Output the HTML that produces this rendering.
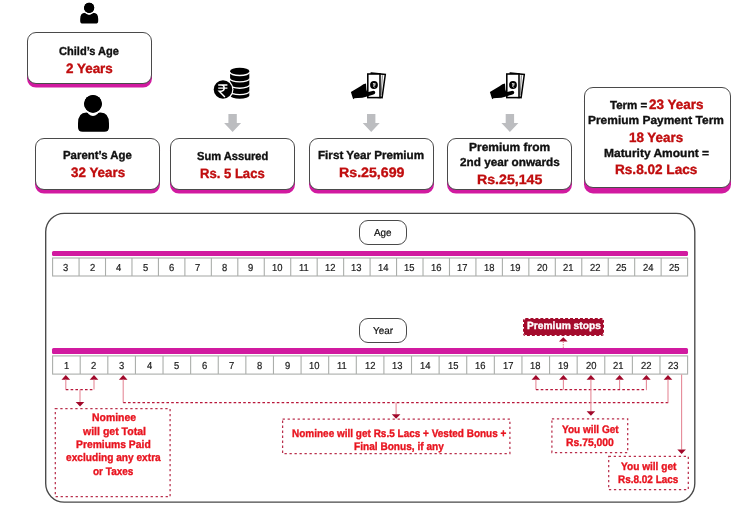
<!DOCTYPE html>
<html><head><meta charset="utf-8"><title>Plan illustration</title>
<style>
html,body{margin:0;padding:0;background:#fff}
body{width:740px;height:511px;position:relative;overflow:hidden;font-family:"Liberation Sans",sans-serif}
.t{position:absolute;white-space:nowrap;text-rendering:geometricPrecision;line-height:20px;transform-origin:0 0;font-weight:normal}
.box{position:absolute;box-sizing:border-box;background:#fff;border:1.3px solid #4a4a4a;border-radius:9px;box-shadow:0 3.6px 0 0 #d11aa0}
.bar{position:absolute;left:52.0px;width:635.8px;height:5.5px;background:#d11aa0;border-radius:1.5px}
.pill{position:absolute;box-sizing:border-box;border:1.2px solid #4a4a4a;border-radius:9px;background:#fff}
.stops{position:absolute;left:522.7px;top:318px;width:81.2px;height:17.7px;box-sizing:border-box;background:#a40b2c;background-clip:padding-box;border:1px dashed #a40b2c;border-radius:2.5px}
svg{position:absolute;left:0;top:0}
#stage{position:absolute;left:0;top:0;width:740px;height:511px;will-change:transform}
</style></head><body><div id="stage">
<div class="box" style="left:27px;top:32px;width:125px;height:52px"></div>
<div class="box" style="left:35px;top:138px;width:125px;height:52px"></div>
<div class="box" style="left:170px;top:138px;width:125px;height:52px"></div>
<div class="box" style="left:309px;top:138px;width:125px;height:52px"></div>
<div class="box" style="left:447px;top:138px;width:125px;height:52px"></div>
<div class="box" style="left:584px;top:87px;width:147px;height:101px;box-shadow:0 5.4px 0 0 #d11aa0"></div>
<div class="pill" style="left:359.2px;top:220.3px;width:47.6px;height:24.6px"></div>
<div class="pill" style="left:359.2px;top:317.9px;width:47.6px;height:24.7px"></div>
<div class="bar" style="top:250.5px"></div>
<div class="bar" style="top:348.4px"></div>
<div class="stops"></div>
<svg width="740" height="511" viewBox="0 0 740 511">
<rect x="45.7" y="213.3" width="649.1" height="288.8" rx="18.5" ry="18.5" fill="none" stroke="#484848" stroke-width="1.35"/>
<rect x="52.6" y="258.0" width="635.00" height="18.00" fill="#fff" stroke="#abaeab" stroke-width="1.1"/><path d="M79.06 258.0V276.0M105.52 258.0V276.0M131.97 258.0V276.0M158.43 258.0V276.0M184.89 258.0V276.0M211.35 258.0V276.0M237.81 258.0V276.0M264.27 258.0V276.0M290.73 258.0V276.0M317.18 258.0V276.0M343.64 258.0V276.0M370.10 258.0V276.0M396.56 258.0V276.0M423.02 258.0V276.0M449.48 258.0V276.0M475.93 258.0V276.0M502.39 258.0V276.0M528.85 258.0V276.0M555.31 258.0V276.0M581.77 258.0V276.0M608.23 258.0V276.0M634.68 258.0V276.0M661.14 258.0V276.0" stroke="#abaeab" stroke-width="1.1" fill="none"/>
<rect x="52.6" y="355.9" width="635.00" height="18.20" fill="#fff" stroke="#abaeab" stroke-width="1.1"/><path d="M80.21 355.9V374.1M107.82 355.9V374.1M135.43 355.9V374.1M163.03 355.9V374.1M190.64 355.9V374.1M218.25 355.9V374.1M245.86 355.9V374.1M273.47 355.9V374.1M301.08 355.9V374.1M328.69 355.9V374.1M356.30 355.9V374.1M383.90 355.9V374.1M411.51 355.9V374.1M439.12 355.9V374.1M466.73 355.9V374.1M494.34 355.9V374.1M521.95 355.9V374.1M549.56 355.9V374.1M577.17 355.9V374.1M604.77 355.9V374.1M632.38 355.9V374.1M659.99 355.9V374.1" stroke="#abaeab" stroke-width="1.1" fill="none"/>
<path d="M228.4 114H236.79999999999998V123H241.1L232.6 132L224.1 123H228.4Z" fill="#bcbdc0"/>
<path d="M367.0 114H375.4V123H379.7L371.2 132L362.7 123H367.0Z" fill="#bcbdc0"/>
<path d="M505.7 114H514.1V123H518.4L509.9 132L501.4 123H505.7Z" fill="#bcbdc0"/>
<circle cx="89.15" cy="7.8" r="5.1" fill="#000"/><path d="M85.06 12.7 Q86.345 12.7 86.60000000000001 13.465 Q89.15 15.861999999999998 91.7 13.465 Q91.95500000000001 12.7 93.34 12.7 Q98.2 12.7 98.2 19.018 V20.900000000000002 Q98.2 23.6 95.5 23.6 H82.9 Q80.2 23.6 80.2 20.900000000000002 V19.018 Q80.2 12.7 85.06 12.7Z" fill="#000"/><circle cx="89.15" cy="7.8" r="6.1" fill="none" stroke="#fff" stroke-width="1.2"/><circle cx="89.15" cy="7.8" r="5.1" fill="#000"/>
<circle cx="93.0" cy="103.8" r="8.9" fill="#000"/><path d="M86.37 112.6 Q88.105 112.6 88.55 113.93499999999999 Q93.0 118.118 97.45 113.93499999999999 Q97.895 112.6 100.63 112.6 Q109.0 112.6 109.0 123.481 V127.15 Q109.0 131.8 104.35 131.8 H82.65 Q78.0 131.8 78.0 127.15 V123.481 Q78.0 112.6 86.37 112.6Z" fill="#000"/><circle cx="93.0" cy="103.8" r="9.9" fill="none" stroke="#fff" stroke-width="1.2"/><circle cx="93.0" cy="103.8" r="8.9" fill="#000"/>
<path d="M65.8 374.9L70.1 379.7H61.5Z" fill="#a1082a"/>
<path d="M94.0 374.9L98.3 379.7H89.7Z" fill="#a1082a"/>
<path d="M123.2 374.9L127.5 379.7H118.9Z" fill="#a1082a"/>
<path d="M535.9 374.9L540.1999999999999 379.7H531.6Z" fill="#a1082a"/>
<path d="M563.4 374.9L567.6999999999999 379.7H559.1Z" fill="#a1082a"/>
<path d="M590.9 374.9L595.1999999999999 379.7H586.6Z" fill="#a1082a"/>
<path d="M619.6 374.9L623.9 379.7H615.3000000000001Z" fill="#a1082a"/>
<path d="M646.4 374.9L650.6999999999999 379.7H642.1Z" fill="#a1082a"/>
<path d="M668.0 374.9L672.3 379.7H663.7Z" fill="#a1082a"/>
<path d="M65.8 379.5V389.6" stroke="#e58a98" stroke-width="1.1" fill="none"/>
<path d="M94.0 379.5V389.6" stroke="#e58a98" stroke-width="1.1" fill="none"/>
<path d="M65.8 389.6H94.2" stroke="#b8173a" stroke-width="1.1" stroke-dasharray="2.6 2.2" fill="none"/>
<path d="M80.0 389.6V402.0" stroke="#e58a98" stroke-width="1.1" fill="none"/>
<path d="M75.7 401.9H84.3L80.0 406.4Z" fill="#a1082a"/>
<path d="M123.2 379.5V402.6" stroke="#e58a98" stroke-width="1.1" fill="none"/>
<path d="M123.2 402.6H668.2" stroke="#b8173a" stroke-width="1.1" stroke-dasharray="2.6 2.2" fill="none"/>
<path d="M668.0 379.5V402.6" stroke="#e58a98" stroke-width="1.1" fill="none"/>
<path d="M396.1 402.6V414.4" stroke="#e58a98" stroke-width="1.1" fill="none"/>
<path d="M391.8 414.2H400.40000000000003L396.1 418.7Z" fill="#a1082a"/>
<path d="M535.9 379.5V389.6" stroke="#e58a98" stroke-width="1.1" fill="none"/>
<path d="M563.4 379.5V389.6" stroke="#e58a98" stroke-width="1.1" fill="none"/>
<path d="M619.6 379.5V389.6" stroke="#e58a98" stroke-width="1.1" fill="none"/>
<path d="M646.4 379.5V389.6" stroke="#e58a98" stroke-width="1.1" fill="none"/>
<path d="M535.9 389.6H646.6" stroke="#b8173a" stroke-width="1.1" stroke-dasharray="2.6 2.2" fill="none"/>
<path d="M590.9 379.5V411.5" stroke="#e58a98" stroke-width="1.1" fill="none"/>
<path d="M586.6 411.3H595.1999999999999L590.9 415.8Z" fill="#a1082a"/>
<path d="M681.6 374.5V449.6" stroke="#e58a98" stroke-width="1.1" fill="none"/>
<path d="M677.3000000000001 449.4H685.9L681.6 453.9Z" fill="#a1082a"/>
<rect x="55.3" y="408.7" width="114.8" height="88.0" fill="none" stroke="#b92f4c" stroke-width="1.25" stroke-dasharray="2.3 2.7"/>
<rect x="282.6" y="419.1" width="227.29999999999995" height="34.599999999999966" fill="none" stroke="#b92f4c" stroke-width="1.25" stroke-dasharray="2.3 2.7"/>
<rect x="551.9" y="418.8" width="75.80000000000007" height="33.69999999999999" fill="none" stroke="#b92f4c" stroke-width="1.25" stroke-dasharray="2.3 2.7"/>
<rect x="608.7" y="456.4" width="79.59999999999991" height="33.30000000000001" fill="none" stroke="#b92f4c" stroke-width="1.25" stroke-dasharray="2.3 2.7"/>
<path d="M563.3 337.2L567.6 341.6H559.0Z" fill="#a1082a"/>
<path d="M563.3 341.6V348.6" stroke="#e58a98" stroke-width="1.1" stroke-dasharray="1.5 1"/>
<path d="M230.1 71.0 A9.600000000000009 3.3 0 0 1 249.3 71.0 V95.4 A9.600000000000009 3.3 0 0 1 230.1 95.4Z" fill="#000"/>
<path d="M229.79999999999998 72.1 A9.600000000000009 3.3 0 0 0 249.60000000000002 72.1" fill="none" stroke="#fff" stroke-width="1.35"/>
<path d="M229.79999999999998 78.44999999999999 A9.600000000000009 3.3 0 0 0 249.60000000000002 78.44999999999999" fill="none" stroke="#fff" stroke-width="1.35"/>
<path d="M229.79999999999998 84.8 A9.600000000000009 3.3 0 0 0 249.60000000000002 84.8" fill="none" stroke="#fff" stroke-width="1.35"/>
<path d="M229.79999999999998 91.14999999999999 A9.600000000000009 3.3 0 0 0 249.60000000000002 91.14999999999999" fill="none" stroke="#fff" stroke-width="1.35"/>
<circle cx="223.0" cy="89.5" r="10.5" fill="#fff"/>
<circle cx="223.0" cy="89.5" r="9.3" fill="#000"/>
<path d="M218.2 85.0H227.4M218.2 88.1H227.4M219.2 85.0H221.3C225.2 85.0 225.2 91.2 221.3 91.2H219.2L224.9 97.0" fill="none" stroke="#fff" stroke-width="1.45" stroke-linejoin="miter"/>
<g transform="translate(0 0)">
<path d="M371.3 73.0L385.3 74.5L382.1 97.6L368.5 96.5Z" fill="#fff" stroke="#000" stroke-width="1.5" stroke-linejoin="miter"/>
<path d="M382.4 75.3L381.1 95.0" fill="none" stroke="#222" stroke-width="0.6"/>
<rect x="367.8" y="74.0" width="12.2" height="23.6" fill="#fff" stroke="#000" stroke-width="1.55"/>
<circle cx="374.0" cy="85.0" r="3.9" fill="#000"/>
<path d="M372.9 83.6H375.6M372.9 84.9H375.6M373.2 83.6C375.3 83.6 375.3 86.0 373.2 86.0L375.2 87.6" fill="none" stroke="#fff" stroke-width="0.7"/>
<path d="M350.9 92.0 L360.5 86.2 Q363.5 84.0 366.0 83.6 L366.4 89.5 L367.2 92.2 L372.5 90.9 Q375.4 90.6 375.3 92.6 Q375.2 94.3 372.8 94.8 L367.0 96.4 Q362.0 98.0 357.5 97.9 L354.5 98.3 L353.2 99.2 Q352.2 96.5 350.9 92.0Z" fill="#000"/>
</g>
<g transform="translate(139 0)">
<path d="M371.3 73.0L385.3 74.5L382.1 97.6L368.5 96.5Z" fill="#fff" stroke="#000" stroke-width="1.5" stroke-linejoin="miter"/>
<path d="M382.4 75.3L381.1 95.0" fill="none" stroke="#222" stroke-width="0.6"/>
<rect x="367.8" y="74.0" width="12.2" height="23.6" fill="#fff" stroke="#000" stroke-width="1.55"/>
<circle cx="374.0" cy="85.0" r="3.9" fill="#000"/>
<path d="M372.9 83.6H375.6M372.9 84.9H375.6M373.2 83.6C375.3 83.6 375.3 86.0 373.2 86.0L375.2 87.6" fill="none" stroke="#fff" stroke-width="0.7"/>
<path d="M350.9 92.0 L360.5 86.2 Q363.5 84.0 366.0 83.6 L366.4 89.5 L367.2 92.2 L372.5 90.9 Q375.4 90.6 375.3 92.6 Q375.2 94.3 372.8 94.8 L367.0 96.4 Q362.0 98.0 357.5 97.9 L354.5 98.3 L353.2 99.2 Q352.2 96.5 350.9 92.0Z" fill="#000"/>
</g>
</svg>
<span class="t" style="left:63.24px;top:259px;font-size:10.14px;color:#1a1a1a;-webkit-text-stroke:0.2px #1a1a1a;transform:scaleX(0.93)">3</span>
<span class="t" style="left:89.65px;top:259px;font-size:10.14px;color:#1a1a1a;-webkit-text-stroke:0.2px #1a1a1a;transform:scaleX(0.93)">2</span>
<span class="t" style="left:116.15px;top:259px;font-size:10.14px;color:#1a1a1a;-webkit-text-stroke:0.2px #1a1a1a;transform:scaleX(0.93)">4</span>
<span class="t" style="left:142.56px;top:259px;font-size:10.14px;color:#1a1a1a;-webkit-text-stroke:0.2px #1a1a1a;transform:scaleX(0.93)">5</span>
<span class="t" style="left:168.97px;top:259px;font-size:10.14px;color:#1a1a1a;-webkit-text-stroke:0.2px #1a1a1a;transform:scaleX(0.93)">6</span>
<span class="t" style="left:195.48px;top:259px;font-size:10.14px;color:#1a1a1a;-webkit-text-stroke:0.2px #1a1a1a;transform:scaleX(0.93)">7</span>
<span class="t" style="left:221.94px;top:259px;font-size:10.14px;color:#1a1a1a;-webkit-text-stroke:0.2px #1a1a1a;transform:scaleX(0.93)">8</span>
<span class="t" style="left:248.44px;top:259px;font-size:10.14px;color:#1a1a1a;-webkit-text-stroke:0.2px #1a1a1a;transform:scaleX(0.93)">9</span>
<span class="t" style="left:272.09px;top:259px;font-size:10.14px;color:#1a1a1a;-webkit-text-stroke:0.2px #1a1a1a;transform:scaleX(0.93)">10</span>
<span class="t" style="left:298.95px;top:259px;font-size:10.14px;color:#1a1a1a;-webkit-text-stroke:0.2px #1a1a1a;transform:scaleX(0.93)">11</span>
<span class="t" style="left:325.06px;top:259px;font-size:10.14px;color:#1a1a1a;-webkit-text-stroke:0.2px #1a1a1a;transform:scaleX(0.93)">12</span>
<span class="t" style="left:351.47px;top:259px;font-size:10.14px;color:#1a1a1a;-webkit-text-stroke:0.2px #1a1a1a;transform:scaleX(0.93)">13</span>
<span class="t" style="left:377.88px;top:259px;font-size:10.14px;color:#1a1a1a;-webkit-text-stroke:0.2px #1a1a1a;transform:scaleX(0.93)">14</span>
<span class="t" style="left:404.38px;top:259px;font-size:10.14px;color:#1a1a1a;-webkit-text-stroke:0.2px #1a1a1a;transform:scaleX(0.93)">15</span>
<span class="t" style="left:430.84px;top:259px;font-size:10.14px;color:#1a1a1a;-webkit-text-stroke:0.2px #1a1a1a;transform:scaleX(0.93)">16</span>
<span class="t" style="left:457.35px;top:259px;font-size:10.14px;color:#1a1a1a;-webkit-text-stroke:0.2px #1a1a1a;transform:scaleX(0.93)">17</span>
<span class="t" style="left:483.76px;top:259px;font-size:10.14px;color:#1a1a1a;-webkit-text-stroke:0.2px #1a1a1a;transform:scaleX(0.93)">18</span>
<span class="t" style="left:510.26px;top:259px;font-size:10.14px;color:#1a1a1a;-webkit-text-stroke:0.2px #1a1a1a;transform:scaleX(0.93)">19</span>
<span class="t" style="left:536.77px;top:259px;font-size:10.14px;color:#1a1a1a;-webkit-text-stroke:0.2px #1a1a1a;transform:scaleX(0.93)">20</span>
<span class="t" style="left:563.27px;top:259px;font-size:10.14px;color:#1a1a1a;-webkit-text-stroke:0.2px #1a1a1a;transform:scaleX(0.93)">21</span>
<span class="t" style="left:589.73px;top:259px;font-size:10.14px;color:#1a1a1a;-webkit-text-stroke:0.2px #1a1a1a;transform:scaleX(0.93)">22</span>
<span class="t" style="left:616.14px;top:259px;font-size:10.14px;color:#1a1a1a;-webkit-text-stroke:0.2px #1a1a1a;transform:scaleX(0.93)">25</span>
<span class="t" style="left:642.56px;top:259px;font-size:10.14px;color:#1a1a1a;-webkit-text-stroke:0.2px #1a1a1a;transform:scaleX(0.93)">24</span>
<span class="t" style="left:669.06px;top:259px;font-size:10.14px;color:#1a1a1a;-webkit-text-stroke:0.2px #1a1a1a;transform:scaleX(0.93)">25</span>
<span class="t" style="left:63.67px;top:357px;font-size:10.14px;color:#1a1a1a;-webkit-text-stroke:0.2px #1a1a1a;transform:scaleX(0.93)">1</span>
<span class="t" style="left:91.37px;top:357px;font-size:10.14px;color:#1a1a1a;-webkit-text-stroke:0.2px #1a1a1a;transform:scaleX(0.93)">2</span>
<span class="t" style="left:119.03px;top:357px;font-size:10.14px;color:#1a1a1a;-webkit-text-stroke:0.2px #1a1a1a;transform:scaleX(0.93)">3</span>
<span class="t" style="left:146.64px;top:357px;font-size:10.14px;color:#1a1a1a;-webkit-text-stroke:0.2px #1a1a1a;transform:scaleX(0.93)">4</span>
<span class="t" style="left:174.20px;top:357px;font-size:10.14px;color:#1a1a1a;-webkit-text-stroke:0.2px #1a1a1a;transform:scaleX(0.93)">5</span>
<span class="t" style="left:201.76px;top:357px;font-size:10.14px;color:#1a1a1a;-webkit-text-stroke:0.2px #1a1a1a;transform:scaleX(0.93)">6</span>
<span class="t" style="left:229.42px;top:357px;font-size:10.14px;color:#1a1a1a;-webkit-text-stroke:0.2px #1a1a1a;transform:scaleX(0.93)">7</span>
<span class="t" style="left:257.02px;top:357px;font-size:10.14px;color:#1a1a1a;-webkit-text-stroke:0.2px #1a1a1a;transform:scaleX(0.93)">8</span>
<span class="t" style="left:284.68px;top:357px;font-size:10.14px;color:#1a1a1a;-webkit-text-stroke:0.2px #1a1a1a;transform:scaleX(0.93)">9</span>
<span class="t" style="left:309.48px;top:357px;font-size:10.14px;color:#1a1a1a;-webkit-text-stroke:0.2px #1a1a1a;transform:scaleX(0.93)">10</span>
<span class="t" style="left:337.48px;top:357px;font-size:10.14px;color:#1a1a1a;-webkit-text-stroke:0.2px #1a1a1a;transform:scaleX(0.93)">11</span>
<span class="t" style="left:364.74px;top:357px;font-size:10.14px;color:#1a1a1a;-webkit-text-stroke:0.2px #1a1a1a;transform:scaleX(0.93)">12</span>
<span class="t" style="left:392.30px;top:357px;font-size:10.14px;color:#1a1a1a;-webkit-text-stroke:0.2px #1a1a1a;transform:scaleX(0.93)">13</span>
<span class="t" style="left:419.87px;top:357px;font-size:10.14px;color:#1a1a1a;-webkit-text-stroke:0.2px #1a1a1a;transform:scaleX(0.93)">14</span>
<span class="t" style="left:447.52px;top:357px;font-size:10.14px;color:#1a1a1a;-webkit-text-stroke:0.2px #1a1a1a;transform:scaleX(0.93)">15</span>
<span class="t" style="left:475.13px;top:357px;font-size:10.14px;color:#1a1a1a;-webkit-text-stroke:0.2px #1a1a1a;transform:scaleX(0.93)">16</span>
<span class="t" style="left:502.79px;top:357px;font-size:10.14px;color:#1a1a1a;-webkit-text-stroke:0.2px #1a1a1a;transform:scaleX(0.93)">17</span>
<span class="t" style="left:530.35px;top:357px;font-size:10.14px;color:#1a1a1a;-webkit-text-stroke:0.2px #1a1a1a;transform:scaleX(0.93)">18</span>
<span class="t" style="left:558.00px;top:357px;font-size:10.14px;color:#1a1a1a;-webkit-text-stroke:0.2px #1a1a1a;transform:scaleX(0.93)">19</span>
<span class="t" style="left:585.66px;top:357px;font-size:10.14px;color:#1a1a1a;-webkit-text-stroke:0.2px #1a1a1a;transform:scaleX(0.93)">20</span>
<span class="t" style="left:613.32px;top:357px;font-size:10.14px;color:#1a1a1a;-webkit-text-stroke:0.2px #1a1a1a;transform:scaleX(0.93)">21</span>
<span class="t" style="left:640.92px;top:357px;font-size:10.14px;color:#1a1a1a;-webkit-text-stroke:0.2px #1a1a1a;transform:scaleX(0.93)">22</span>
<span class="t" style="left:668.49px;top:357px;font-size:10.14px;color:#1a1a1a;-webkit-text-stroke:0.2px #1a1a1a;transform:scaleX(0.93)">23</span>
<span class="t" style="left:58.63px;top:42px;font-size:11.64px;font-weight:bold;color:#111;transform:scaleX(0.9512);-webkit-text-stroke:0.35px #111">Child’s Age</span>
<span class="t" style="left:65.77px;top:59px;font-size:13.57px;font-weight:bold;color:#c00d0e;transform:scaleX(0.9896);-webkit-text-stroke:0.35px #c00d0e">2 Years</span>
<span class="t" style="left:63.08px;top:146px;font-size:11.64px;font-weight:bold;color:#111;transform:scaleX(0.9819);-webkit-text-stroke:0.35px #111">Parent’s Age</span>
<span class="t" style="left:70.60px;top:163px;font-size:13.57px;font-weight:bold;color:#c00d0e;transform:scaleX(0.9877);-webkit-text-stroke:0.35px #c00d0e">32 Years</span>
<span class="t" style="left:196.65px;top:147px;font-size:11.64px;font-weight:bold;color:#111;transform:scaleX(0.9577);-webkit-text-stroke:0.35px #111">Sum Assured</span>
<span class="t" style="left:200.19px;top:164px;font-size:13.57px;font-weight:bold;color:#c00d0e;transform:scaleX(0.9640);-webkit-text-stroke:0.35px #c00d0e">Rs. 5 Lacs</span>
<span class="t" style="left:317.87px;top:146px;font-size:11.64px;font-weight:bold;color:#111;transform:scaleX(1.0033);-webkit-text-stroke:0.35px #111">First Year Premium</span>
<span class="t" style="left:338.52px;top:163px;font-size:13.57px;font-weight:bold;color:#c00d0e;transform:scaleX(1.0464);-webkit-text-stroke:0.35px #c00d0e">Rs.25,699</span>
<span class="t" style="left:469.25px;top:138px;font-size:11.64px;font-weight:bold;color:#111;transform:scaleX(1.0301);-webkit-text-stroke:0.35px #111">Premium from</span>
<span class="t" style="left:459.82px;top:153px;font-size:11.64px;font-weight:bold;color:#111;transform:scaleX(1.0097);-webkit-text-stroke:0.35px #111">2nd year onwards</span>
<span class="t" style="left:477.22px;top:170px;font-size:13.57px;font-weight:bold;color:#c00d0e;transform:scaleX(1.0440);-webkit-text-stroke:0.35px #c00d0e">Rs.25,145</span>
<span class="t" style="left:609.55px;top:96px;font-size:11.64px;font-weight:bold;color:#111;transform:scaleX(0.9930);-webkit-text-stroke:0.35px #111">Term =</span>
<span class="t" style="left:649.27px;top:95px;font-size:13.57px;font-weight:bold;color:#c00d0e;transform:scaleX(0.9921);-webkit-text-stroke:0.35px #c00d0e">23 Years</span>
<span class="t" style="left:588.45px;top:111px;font-size:11.64px;font-weight:bold;color:#111;transform:scaleX(1.0278);-webkit-text-stroke:0.35px #111">Premium Payment Term</span>
<span class="t" style="left:629.17px;top:128px;font-size:13.57px;font-weight:bold;color:#c00d0e;transform:scaleX(0.9865);-webkit-text-stroke:0.35px #c00d0e">18 Years</span>
<span class="t" style="left:603.85px;top:144px;font-size:11.64px;font-weight:bold;color:#111;transform:scaleX(1.0301);-webkit-text-stroke:0.35px #111">Maturity Amount =</span>
<span class="t" style="left:615.15px;top:160px;font-size:13.57px;font-weight:bold;color:#c00d0e;transform:scaleX(1.0017);-webkit-text-stroke:0.35px #c00d0e">Rs.8.02 Lacs</span>
<span class="t" style="left:374.40px;top:224px;font-size:10.14px;font-weight:normal;color:#111;transform:scaleX(0.9788);-webkit-text-stroke:0.2px #111">Age</span>
<span class="t" style="left:373.00px;top:322px;font-size:10.14px;font-weight:normal;color:#111;transform:scaleX(0.9775);-webkit-text-stroke:0.2px #111">Year</span>
<span class="t" style="left:526.76px;top:317px;font-size:10.43px;font-weight:bold;color:#fff;transform:scaleX(0.9814);-webkit-text-stroke:0.35px #fff">Premium stops</span>
<span class="t" style="left:91.64px;top:408px;font-size:11.00px;font-weight:bold;color:#e8141f;transform:scaleX(0.9484);-webkit-text-stroke:0.35px #e8141f">Nominee</span>
<span class="t" style="left:82.58px;top:422px;font-size:11.00px;font-weight:bold;color:#e8141f;transform:scaleX(0.9570);-webkit-text-stroke:0.35px #e8141f">will get Total</span>
<span class="t" style="left:75.95px;top:435px;font-size:11.00px;font-weight:bold;color:#e8141f;transform:scaleX(0.9400);-webkit-text-stroke:0.35px #e8141f">Premiums Paid</span>
<span class="t" style="left:65.57px;top:448px;font-size:11.00px;font-weight:bold;color:#e8141f;transform:scaleX(0.9223);-webkit-text-stroke:0.35px #e8141f">excluding any extra</span>
<span class="t" style="left:93.37px;top:462px;font-size:11.00px;font-weight:bold;color:#e8141f;transform:scaleX(0.9098);-webkit-text-stroke:0.35px #e8141f">or Taxes</span>
<span class="t" style="left:292.27px;top:424px;font-size:11.00px;font-weight:bold;color:#e8141f;transform:scaleX(0.9086);-webkit-text-stroke:0.35px #e8141f">Nominee will get Rs.5 Lacs + Vested Bonus +</span>
<span class="t" style="left:353.96px;top:437px;font-size:11.00px;font-weight:bold;color:#e8141f;transform:scaleX(0.9186);-webkit-text-stroke:0.35px #e8141f">Final Bonus, if any</span>
<span class="t" style="left:562.07px;top:420px;font-size:11.00px;font-weight:bold;color:#e8141f;transform:scaleX(0.9108);-webkit-text-stroke:0.35px #e8141f">You will Get</span>
<span class="t" style="left:566.45px;top:433px;font-size:11.00px;font-weight:bold;color:#e8141f;transform:scaleX(0.9428);-webkit-text-stroke:0.35px #e8141f">Rs.75,000</span>
<span class="t" style="left:620.87px;top:457px;font-size:11.00px;font-weight:bold;color:#e8141f;transform:scaleX(0.9187);-webkit-text-stroke:0.35px #e8141f">You will get</span>
<span class="t" style="left:618.32px;top:470px;font-size:11.00px;font-weight:bold;color:#e8141f;transform:scaleX(0.9057);-webkit-text-stroke:0.35px #e8141f">Rs.8.02 Lacs</span>
</div></body></html>
